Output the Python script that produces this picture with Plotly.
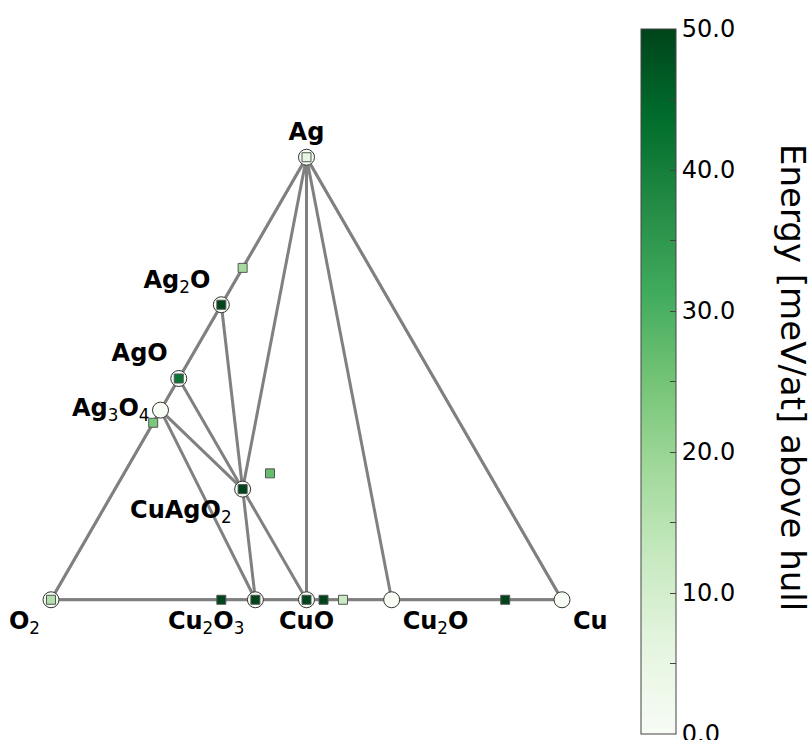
import plotly.graph_objects as go

# ---- data: stable phases (atom counts: Ag, Cu, O) ----
stable_names = ["Ag", "Ag2O", "AgO", "Ag3O4", "CuAgO2", "O2", "Cu2O3", "CuO", "Cu2O", "Cu"]
stable_labels = ["Ag", "Ag<sub>2</sub>O", "AgO", "Ag<sub>3</sub>O<sub>4</sub>", "CuAgO<sub>2</sub>",
                 "O<sub>2</sub>", "Cu<sub>2</sub>O<sub>3</sub>", "CuO", "Cu<sub>2</sub>O", "Cu"]
stable_ag = [1, 2, 1, 3, 1, 0, 0, 0, 0, 0]
stable_cu = [0, 0, 0, 0, 1, 0, 2, 1, 2, 1]
stable_o = [0, 1, 1, 4, 2, 2, 3, 1, 1, 0]

# ---- tie lines between stable phases ----
tie_lines = [
    ("Ag", "Cu"), ("Ag", "Cu2O"), ("Ag", "CuO"), ("Ag", "CuAgO2"), ("Ag", "Ag2O"),
    ("Ag2O", "CuAgO2"), ("Ag2O", "AgO"), ("AgO", "CuAgO2"), ("AgO", "Ag3O4"),
    ("Ag3O4", "CuAgO2"), ("Ag3O4", "Cu2O3"), ("Ag3O4", "O2"),
    ("CuAgO2", "Cu2O3"), ("CuAgO2", "CuO"),
    ("O2", "Cu2O3"), ("Cu2O3", "CuO"), ("CuO", "Cu2O"), ("Cu2O", "Cu"),
]

# ---- unstable entries (atom counts: Ag, Cu, O) and energy above hull [meV/at] ----
unstable_names = ["Ag3O", "Ag2O", "AgO", "Ag2O3", "Ag2Cu2O3", "AgCuO2", "O2", "Ag",
                  "CuO2", "Cu2O3", "CuO", "Cu8O7", "Cu4O3", "Cu8O"]
unstable_ag = [3, 2, 1, 2, 2, 1, 0, 1, 0, 0, 0, 0, 0, 0]
unstable_cu = [0, 0, 0, 0, 2, 1, 0, 0, 1, 2, 1, 8, 4, 8]
unstable_o = [1, 1, 1, 3, 3, 2, 2, 0, 2, 3, 1, 7, 3, 1]
unstable_e = [18, 50, 42, 24, 27, 50, 16, 6, 50, 50, 50, 50, 12, 50]

# ---- colorbar ticks ----
cb_tickvals = [0, 5, 10, 15, 20, 25, 30, 35, 40, 45, 50]
cb_ticktext = ["0.0", "", "10.0", "", "20.0", "", "30.0", "", "40.0", "", "50.0"]

# ---- styles ----
label_pos = ["top center", "top left", "top left", "middle left", "bottom left",
             "bottom left", "bottom left", "bottom center", "bottom right", "bottom right"]
greens = [[0.0, "#f7fcf5"], [0.125, "#e5f5e0"], [0.25, "#c7e9c0"], [0.375, "#a1d99b"],
          [0.5, "#74c476"], [0.625, "#41ab5d"], [0.75, "#238b45"], [0.875, "#006d2c"],
          [1.0, "#00441b"]]


def styled(lbl):
    return lbl.replace("<sub>", "<sub><span style='font-weight:normal'>").replace(
        "</sub>", "</span></sub>")


idx = {n: i for i, n in enumerate(stable_names)}
la, lb, lc = [], [], []
for p, q in tie_lines:
    for n in (p, q):
        i = idx[n]
        la.append(stable_ag[i]); lb.append(stable_o[i]); lc.append(stable_cu[i])
    la.append(None); lb.append(None); lc.append(None)

fig = go.Figure()
fig.add_trace(go.Scatterternary(
    a=la, b=lb, c=lc, mode="lines", connectgaps=False,
    line=dict(color="#808080", width=3), cliponaxis=False, hoverinfo="skip", showlegend=False))

fig.add_trace(go.Scatterternary(
    a=stable_ag, b=stable_o, c=stable_cu, mode="markers+text",
    text=[styled(s) for s in stable_labels], textposition=label_pos,
    textfont=dict(family="DejaVu Sans", size=24, color="black", weight="bold"),
    marker=dict(size=16, color="#f7fcf5", line=dict(color="#333333", width=1)),
    cliponaxis=False, hoverinfo="skip", showlegend=False))

fig.add_trace(go.Scatterternary(
    a=unstable_ag, b=unstable_o, c=unstable_cu, mode="markers",
    marker=dict(symbol="square", size=9, color=unstable_e, cmin=0, cmax=50,
                colorscale=greens, line=dict(color="#555555", width=1),
                showscale=True,
                colorbar=dict(
                    x=641 / 812, xanchor="left", xpad=0, ypad=0,
                    y=(740 - 29) / 740, yanchor="top",
                    thickness=35, thicknessmode="pixels",
                    len=705, lenmode="pixels",
                    outlinewidth=1, outlinecolor="#444444",
                    tickmode="array", tickvals=cb_tickvals, ticktext=cb_ticktext,
                    ticks="inside", ticklen=6, tickcolor="#444444",
                    ticklabeloverflow="allow",
                    tickfont=dict(family="DejaVu Sans", size=24, color="black"),
                )),
    cliponaxis=False, hoverinfo="skip", showlegend=False))

axis_style = dict(showline=True, linecolor="#808080", linewidth=3, layer="below traces",
                  showgrid=False, showticklabels=False, ticks="", title="")
fig.update_layout(
    width=812, height=740,
    margin=dict(l=0, r=0, t=0, b=0),
    paper_bgcolor="white", plot_bgcolor="white",
    hovermode=False,
    ternary=dict(
        sum=1, bgcolor="white",
        domain=dict(x=[51 / 812, 562 / 812], y=[140 / 740, 583 / 740]),
        aaxis=axis_style, baxis=axis_style, caxis=axis_style,
    ),
    annotations=[dict(
        text="Energy [meV/at] above hull", textangle=90,
        x=793 / 812, y=(740 - 377) / 740, xref="paper", yref="paper",
        xanchor="center", yanchor="middle", showarrow=False,
        font=dict(family="DejaVu Sans", size=34, color="black"))],
)

fig.write_html("out.html")
